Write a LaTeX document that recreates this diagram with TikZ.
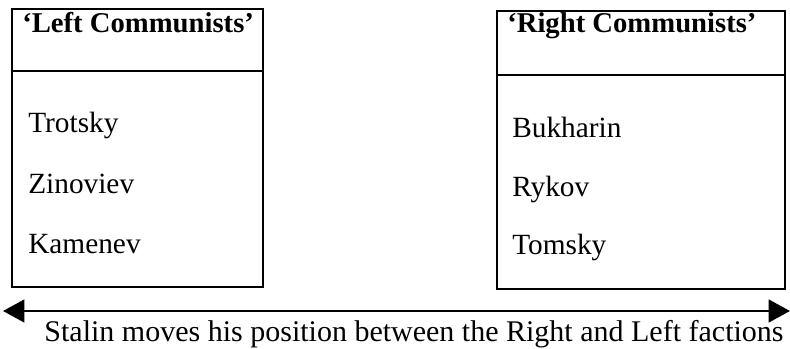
\documentclass[tikz,border=0pt]{standalone}
\usepackage{fontspec}
\setmainfont{Liberation Serif}
\usetikzlibrary{arrows.meta}
\begin{document}
\begin{tikzpicture}[x=0.75pt,y=-0.75pt,
  frame/.style={draw=black,line width=1.3pt},
  head/.style={anchor=base west,inner sep=0pt,font=\fontsize{21.5}{24}\selectfont\bfseries},
  member/.style={anchor=base west,inner sep=0pt,font=\fontsize{22}{26}\selectfont},
  caption/.style={anchor=base,inner sep=0pt,font=\fontsize{22.5}{26}\selectfont},
  move/.style={line width=1.8pt,{Triangle[length=16pt,width=17pt]}-{Triangle[length=16pt,width=17pt]}}]
\useasboundingbox (0,0) rectangle (790,349);
% left faction
\draw[frame] (12,9) rectangle (263,287);
\draw[frame] (12,71) -- (263,71);
\node[head] (lhead) at (22,33) {‘Left Communists’};
\node[member] (trotsky) at (28,133) {Trotsky};
\node[member] (zinoviev) at (28,194) {Zinoviev};
\node[member] (kamenev) at (28,254) {Kamenev};
% right faction
\draw[frame] (497,11) rectangle (785,289);
\draw[frame] (497,75) -- (785,75);
\node[head] (rhead) at (507,33) {‘Right Communists’};
\node[member] (bukharin) at (512,138) {Bukharin};
\node[member] (rykov) at (512,197) {Rykov};
\node[member] (tomsky) at (512,255) {Tomsky};
% Stalin's movement
\coordinate (lend) at (3,311);
\coordinate (rend) at (790,311);
\draw[move] (lend) -- (rend);
\node[caption] (stalin) at (414,342) {Stalin moves his position between the Right and Left factions};
\end{tikzpicture}
\end{document}
